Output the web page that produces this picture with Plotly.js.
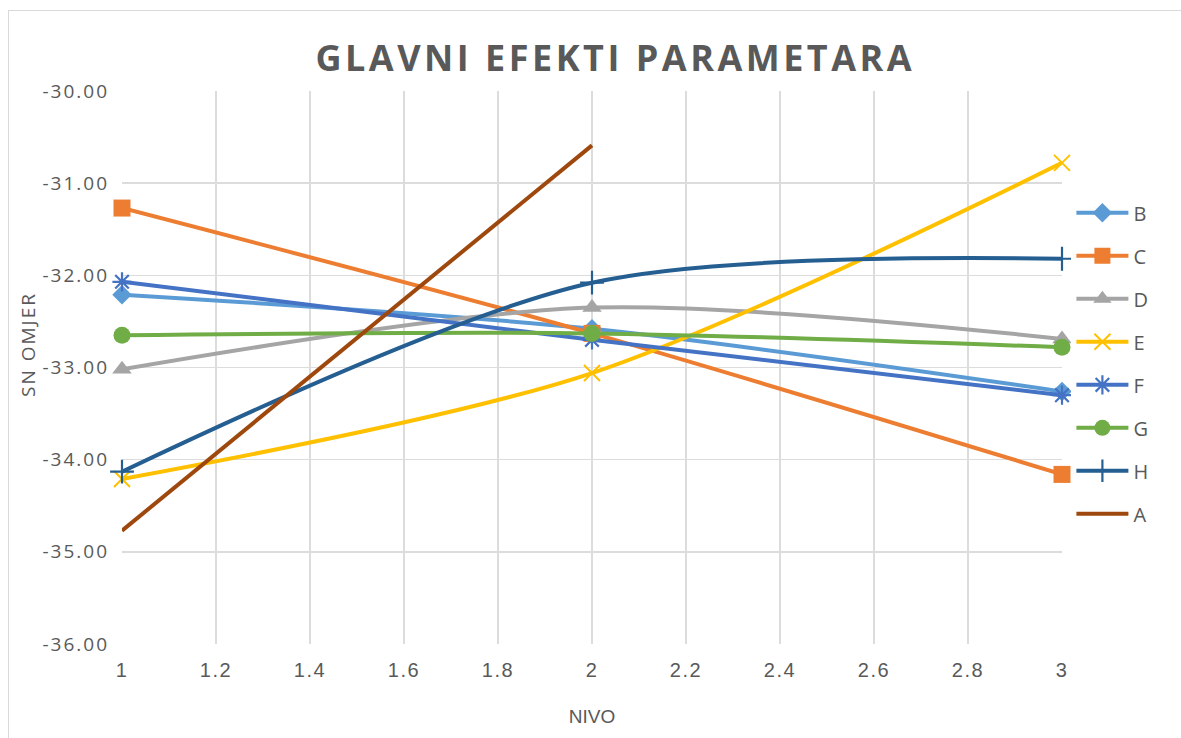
<!DOCTYPE html>
<html>
<head>
<meta charset="utf-8">
<script src="https://cdn.plot.ly/plotly-3.0.1.min.js"></script>
<style>
  html, body { margin: 0; padding: 0; background: #fff; }
  #wrap { position: relative; width: 1181px; height: 738px; overflow: hidden; }
  #chart { width: 1181px; height: 738px; }
  #frame { position: absolute; left: 8px; top: 10px; width: 1300px; height: 900px;
           border: 1.5px solid #d9d9d9; pointer-events: none; box-sizing: border-box; }
  .gtitle { letter-spacing: 3.5px; }
  .ytick text { letter-spacing: 2px; }
  .xtick text { letter-spacing: 1.5px; }
  .annotation-text { letter-spacing: 2px; }
</style>
</head>
<body>
<div id="wrap">
  <div id="chart"></div>
  <div id="frame"></div>
</div>
<script>
// ---- data ----
var levels = [1, 2, 3];
var seriesB = [-32.21, -32.58, -33.26];
var seriesC = [-31.27, -32.63, -34.16];
var seriesD = [-33.02, -32.35, -32.69];
var seriesE = [-34.21, -33.06, -30.78];
var seriesF = [-32.07, -32.70, -33.30];
var seriesG = [-32.65, -32.63, -32.78];
var seriesH = [-34.13, -32.08, -31.82];
var levelsA = [1, 2];
var seriesA = [-34.77, -30.59];

var yTickVals = [-36, -35, -34, -33, -32, -31, -30];
var yTickText = ['-36.00', '-35.00', '-34.00', '-33.00', '-32.00', '-31.00', '-30.00'];
var xTickVals = [1, 1.2, 1.4, 1.6, 1.8, 2, 2.2, 2.4, 2.6, 2.8, 3];
var xTickText = ['1', '1.2', '1.4', '1.6', '1.8', '2', '2.2', '2.4', '2.6', '2.8', '3'];

var titleText = 'GLAVNI EFEKTI PARAMETARA';
var xTitleText = 'NIVO';
var yTitleText = 'SN OMJER';

// ---- traces ----
function mk(name, x, y, color, symbol, msize, mline) {
  var t = {
    type: 'scatter', mode: symbol ? 'lines+markers' : 'lines', name: name,
    x: x, y: y, legendgroup: name, cliponaxis: false,
    line: { color: color, width: 4, shape: 'spline', smoothing: 0.85 }
  };
  if (symbol) {
    t.marker = { symbol: symbol, size: msize, color: color };
    if (mline) t.marker.line = { color: color, width: mline };
  }
  return t;
}

var traces = [
  mk('B', levels, seriesB, '#5B9BD5', 'diamond', 15),
  mk('C', levels, seriesC, '#ED7D31', 'square', 17),
  mk('D', levels, seriesD, '#A5A5A5', 'triangle-up', 17),
  mk('E', levels, seriesE, '#FFC000', 'x-thin-open', 16, 2),
  mk('F', levels, seriesF, '#4472C4', 'asterisk-open', 16, 2.2),
  mk('G', levels, seriesG, '#70AD47', 'circle', 17),
  mk('H', levels, seriesH, '#255E91', 'cross-thin-open', 17, 2.2),
  mk('A', levelsA, seriesA, '#9E480E', null, 0)
];

var txtColor = '#595959';
var layout = {
  width: 1181, height: 738,
  margin: { l: 122, r: 119, t: 91, b: 94 },
  paper_bgcolor: '#ffffff', plot_bgcolor: '#ffffff',
  title: { text: '<b>' + titleText + '</b>', x: 0.521, xanchor: 'center', y: 0.921, yanchor: 'middle',
           font: { family: 'Open Sans', size: 36, color: txtColor } },
  xaxis: {
    range: [1, 3], tickvals: xTickVals, ticktext: xTickText,
    showgrid: true, gridcolor: '#dcdcdc', gridwidth: 1.5,
    zeroline: false, showline: false, ticks: '',
    tickfont: { family: 'Liberation Sans Narrow, Liberation Sans', size: 20, color: txtColor },
    ticklabelstandoff: 12,
    title: { text: xTitleText, font: { family: 'Liberation Sans Narrow, Liberation Sans', size: 19, color: txtColor }, standoff: 29 }
  },
  yaxis: {
    range: [-36, -30], tickvals: yTickVals, ticktext: yTickText,
    showgrid: true, gridcolor: '#dcdcdc', gridwidth: 1.5,
    zeroline: false, showline: false, ticks: '',
    tickfont: { family: 'Open Sans', size: 19, color: txtColor },
    ticklabelstandoff: 12
  },
  showlegend: true,
  legend: {
    x: 1.01, xanchor: 'left', y: 0.815, yanchor: 'top',
    font: { family: 'Open Sans', size: 20, color: txtColor },
    traceorder: 'grouped', tracegroupgap: 14,
    itemwidth: 52
  },
  annotations: [{
    text: yTitleText, xref: 'paper', yref: 'paper',
    x: (28 - 122) / 940, y: (644 - 345) / 553, xanchor: 'center', yanchor: 'middle',
    textangle: -90, showarrow: false,
    font: { family: 'Open Sans', size: 19, color: txtColor }
  }]
};

Plotly.newPlot('chart', traces, layout, { displayModeBar: false, staticPlot: true });
</script>
</body>
</html>
